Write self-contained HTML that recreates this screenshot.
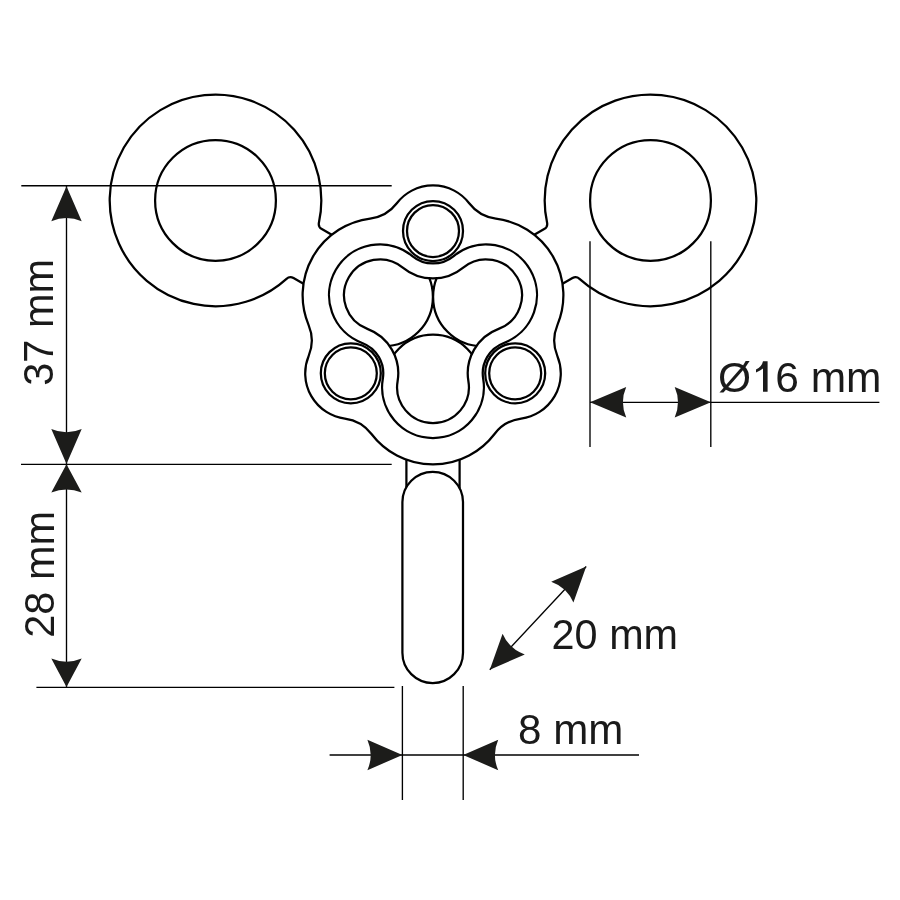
<!DOCTYPE html>
<html><head><meta charset="utf-8"><style>
html,body{margin:0;padding:0;background:#fff;}
svg{display:block;will-change:transform;}
text{font-family:"Liberation Sans",sans-serif;font-size:42.5px;fill:#1a1a1a;}
</style></head><body>
<svg width="900" height="900" viewBox="0 0 900 900">
<defs><clipPath id="hc"><path d="M468.40 381.23 A35.90 35.90 0 1 1 397.60 381.23 A47.44 47.44 0 0 0 367.38 328.89 A35.90 35.90 0 1 1 402.78 267.57 A47.44 47.44 0 0 0 463.22 267.57 A35.90 35.90 0 1 1 498.62 328.89 A47.44 47.44 0 0 0 468.40 381.23 Z"/></clipPath></defs>
<rect width="900" height="900" fill="#fff"/>
<g fill="none" stroke="#000000" stroke-width="2.25">
<path d="M494.52 434.00 A77.30 77.30 0 0 1 371.48 434.00 A40.00 40.00 0 0 0 344.86 418.56 A45.60 45.60 0 0 1 308.69 355.90 A40.00 40.00 0 0 0 308.62 325.13 A77.30 77.30 0 0 1 370.14 218.57 A40.00 40.00 0 0 0 396.82 203.24 A45.60 45.60 0 0 1 469.18 203.24 A40.00 40.00 0 0 0 495.86 218.57 A77.30 77.30 0 0 1 557.38 325.13 A40.00 40.00 0 0 0 557.31 355.90 A45.60 45.60 0 0 1 521.14 418.56 A40.00 40.00 0 0 0 494.52 434.00 Z"/>
<path d="M483.19 378.74 A50.90 50.90 0 1 1 382.81 378.74 A32.44 32.44 0 0 0 362.14 342.95 A50.90 50.90 0 1 1 412.33 256.01 A32.44 32.44 0 0 0 453.67 256.01 A50.90 50.90 0 1 1 503.86 342.95 A32.44 32.44 0 0 0 483.19 378.74 Z"/>
<path d="M468.40 381.23 A35.90 35.90 0 1 1 397.60 381.23 A47.44 47.44 0 0 0 367.38 328.89 A35.90 35.90 0 1 1 402.78 267.57 A47.44 47.44 0 0 0 463.22 267.57 A35.90 35.90 0 1 1 498.62 328.89 A47.44 47.44 0 0 0 468.40 381.23 Z"/>
<g clip-path="url(#hc)"><circle cx="383.60" cy="296.90" r="49.30"/><circle cx="482.40" cy="296.90" r="49.30"/><circle cx="433.00" cy="383.30" r="48.60"/></g>
<circle cx="433.00" cy="231.00" r="30.00"/>
<circle cx="433.00" cy="231.00" r="26.00"/>
<circle cx="350.81" cy="373.35" r="30.00"/>
<circle cx="350.81" cy="373.35" r="26.00"/>
<circle cx="515.19" cy="373.35" r="30.00"/>
<circle cx="515.19" cy="373.35" r="26.00"/>
<circle cx="215.50" cy="200.40" r="60.40"/>
<path d="M303.46 283.83 L293.52 278.09 A6.0 6.0 0 0 0 286.50 278.84 A105.8 105.8 0 1 1 318.94 222.61 A6.0 6.0 0 0 0 321.81 229.07 L331.74 234.80"/>
<circle cx="650.50" cy="200.40" r="60.40"/>
<path d="M534.26 234.80 L544.19 229.07 A6.0 6.0 0 0 0 547.06 222.61 A105.8 105.8 0 1 1 579.50 278.84 A6.0 6.0 0 0 0 572.48 278.09 L562.54 283.83"/>
<path d="M402.40 502.10 A30.3 30.3 0 0 1 463.00 502.10 L463.00 652.70 A30.3 30.3 0 0 1 402.40 652.70 Z"/>
<line x1="406.40" y1="459.78" x2="406.40" y2="487.05"/>
<line x1="459.60" y1="459.78" x2="459.60" y2="488.15"/>
</g>
<g stroke="#000000" stroke-width="1.35" fill="#1c1c1a">
<line x1="21.3" y1="185.7" x2="391.7" y2="185.7"/>
<line x1="21.0" y1="464.3" x2="391.7" y2="464.3"/>
<line x1="36.4" y1="687.3" x2="394.4" y2="687.3"/>
<line x1="66.5" y1="186" x2="66.5" y2="687"/>
<path d="M66.50 186.20 L81.70 221.20 Q66.50 214.60 51.30 221.20 Z" stroke="none"/>
<path d="M66.50 464.00 L51.30 429.00 Q66.50 435.60 81.70 429.00 Z" stroke="none"/>
<path d="M66.50 464.30 L81.70 492.50 Q66.50 486.50 51.30 492.50 Z" stroke="none"/>
<path d="M66.50 687.00 L51.30 658.60 Q66.50 665.00 81.70 658.60 Z" stroke="none"/>
<line x1="590.0" y1="241.3" x2="590.0" y2="447.1"/>
<line x1="710.8" y1="241.3" x2="710.8" y2="447.1"/>
<line x1="590.0" y1="402.3" x2="879.4" y2="402.3"/>
<path d="M590.00 402.30 L626.20 387.10 Q619.60 402.30 626.20 417.50 Z" stroke="none"/>
<path d="M710.90 402.30 L674.70 417.50 Q681.30 402.30 674.70 387.10 Z" stroke="none"/>
<line x1="402.4" y1="686.0" x2="402.4" y2="800.0"/>
<line x1="463.2" y1="686.0" x2="463.2" y2="800.0"/>
<line x1="329.6" y1="755.0" x2="639.0" y2="755.0"/>
<path d="M402.40 755.00 L367.40 770.20 Q374.00 755.00 367.40 739.80 Z" stroke="none"/>
<path d="M463.20 755.00 L498.20 739.80 Q491.60 755.00 498.20 770.20 Z" stroke="none"/>
<line x1="489.8" y1="669.7" x2="586.2" y2="566.5"/>
<path d="M586.20 566.50 L573.42 602.45 Q566.81 587.25 551.20 581.70 Z" stroke="none"/>
<path d="M489.80 669.70 L502.58 633.75 Q509.19 648.95 524.80 654.50 Z" stroke="none"/>
</g>
<g><text x="718" y="391.9">Ø</text>
<text x="775.2" y="391.9">6 mm</text>
<text x="551.6" y="648.9" textLength="126.5" lengthAdjust="spacingAndGlyphs">20 mm</text>
<text x="518" y="743.9" textLength="105.3" lengthAdjust="spacingAndGlyphs">8 mm</text>
<text transform="translate(53 385.8) rotate(-90)" textLength="127" lengthAdjust="spacingAndGlyphs">37 mm</text>
<text transform="translate(54 637.8) rotate(-90)" textLength="127" lengthAdjust="spacingAndGlyphs">28 mm</text>
<path d="M763 361.2 L767.6 361.2 L767.6 391.8 L763 391.8 L763 368.6 Q760.5 370.6 756 372.4 L756 369.6 Q761.8 366.8 763 361.2 Z" fill="#1a1a1a"/></g>
</svg>
</body></html>
